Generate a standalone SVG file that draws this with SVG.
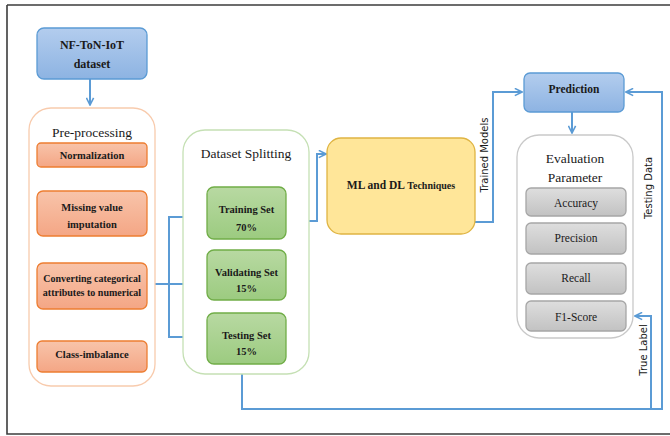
<svg xmlns="http://www.w3.org/2000/svg" width="670" height="436" viewBox="0 0 670 436">
<defs>
<linearGradient id="gBlue" x1="0" y1="0" x2="0" y2="1"><stop offset="0" stop-color="#b3cdee"/><stop offset="1" stop-color="#8db3e2"/></linearGradient>
<linearGradient id="gOrange" x1="0" y1="0" x2="0" y2="1"><stop offset="0" stop-color="#f8c4aa"/><stop offset="1" stop-color="#f4a685"/></linearGradient>
<linearGradient id="gGreen" x1="0" y1="0" x2="0" y2="1"><stop offset="0" stop-color="#b8d9a2"/><stop offset="1" stop-color="#9ccb80"/></linearGradient>
<linearGradient id="gGray" x1="0" y1="0" x2="0" y2="1"><stop offset="0" stop-color="#dedede"/><stop offset="1" stop-color="#c2c2c2"/></linearGradient>
<marker id="arr" viewBox="0 0 10 10" refX="9" refY="5" markerWidth="9" markerHeight="9" markerUnits="userSpaceOnUse" orient="auto">
<path d="M1,1 L9,5 L1,9" fill="none" stroke="#5b9bd5" stroke-width="1.8"/>
</marker>
</defs>
<style>
.frame{fill:none;stroke:#3c3c3c;stroke-width:1.6}
.blue{fill:url(#gBlue);stroke:#5b9bd5;stroke-width:1.3}
.orange{fill:url(#gOrange);stroke:#ed7d31;stroke-width:1.3}
.green{fill:url(#gGreen);stroke:#70ad47;stroke-width:1.3}
.gray{fill:url(#gGray);stroke:#a6a6a6;stroke-width:1.3}
.yellow{fill:#ffe699;stroke:#dfb443;stroke-width:1.3}
.outerO{fill:#fff;stroke:#f8cbad;stroke-width:1.3}
.outerG{fill:#fff;stroke:#c5e0b4;stroke-width:1.3}
.outerK{fill:#fff;stroke:#c9c9c9;stroke-width:1.3}
.c{fill:none;stroke:#5b9bd5;stroke-width:2;marker-end:url(#arr)}
text{fill:#1a1a1a;text-anchor:middle}
.b{font-weight:bold;font-size:10.5px}
.h{font-size:13.5px}
.m{font-size:11.5px}
.s{font-size:10px}
</style>
<rect width="670" height="436" fill="#fff"/>
<path class="frame" d="M7,5 H670 M7,5 V434 H670"/>

<g id="connectors">
<path class="c" d="M90,79 V105"/>
<path class="c" d="M90,167 V189"/>
<path class="c" d="M90,238 V260"/>
<path class="c" d="M90,313 V339"/>
<path class="c" d="M155,284 H205"/>
<path class="c" d="M169,284 V217 H205"/>
<path class="c" d="M169,284 V337 H205"/>
<path class="c" d="M286,221 H317 V154 H326"/>
<path class="c" d="M475,222 H493 V92 H522"/>
<path class="c" d="M572,112 V133"/>
<path class="c" d="M242,374 V409 H662 V92 H626"/>
<path class="c" d="M651,409 V316 H635"/>
<g font-family="DejaVu Sans, Liberation Sans, sans-serif">
<text class="s" transform="translate(488,155) rotate(-90)">Trained Models</text>
<text class="s" transform="translate(652,188) rotate(-90)">Testing Data</text>
<text class="s" transform="translate(647,350) rotate(-90)">True Label</text>
</g>
</g>

<g font-family="Liberation Serif, serif">
<g id="dataset">
<rect class="blue" x="37" y="28" width="110" height="51" rx="7"/>
<text class="b" x="92" y="49" font-size="12" style="font-size:12px">NF-ToN-IoT</text>
<text class="b" x="92" y="68" style="font-size:12px">dataset</text>
</g>

<g id="preprocessing">
<rect class="outerO" x="29" y="108" width="126" height="278" rx="22"/>
<text class="h" x="92" y="137">Pre-processing</text>
</g>
<g id="normalization">
<rect class="orange" x="37" y="143" width="110" height="24" rx="4"/>
<text class="b" x="92" y="158.5">Normalization</text>
</g>
<g id="missing">
<rect class="orange" x="37" y="191" width="110" height="45" rx="6"/>
<text class="b" x="92" y="210.5">Missing value</text>
<text class="b" x="92" y="227.5">imputation</text>
</g>
<g id="converting">
<rect class="orange" x="37" y="263" width="110" height="46" rx="6"/>
<text class="b" x="92" y="281.5" style="font-size:10px">Converting categorical</text>
<text class="b" x="92" y="295.5" style="font-size:10px">attributes to numerical</text>
</g>
<g id="classimbalance">
<rect class="orange" x="37" y="341" width="110" height="31" rx="5"/>
<text class="b" x="92" y="357.5">Class-imbalance</text>
</g>

<g id="splitting">
<rect class="outerG" x="183" y="130" width="126" height="244" rx="22"/>
<text class="h" x="246" y="158">Dataset Splitting</text>
</g>
<g id="training">
<rect class="green" x="207" y="187" width="79" height="52" rx="7"/>
<text class="b" x="246.5" y="212.5">Training Set</text>
<text class="b" x="246.5" y="230.5">70%</text>
</g>
<g id="validating">
<rect class="green" x="207" y="250" width="79" height="50" rx="7"/>
<text class="b" x="246.5" y="275.5">Validating Set</text>
<text class="b" x="246.5" y="291.5">15%</text>
</g>
<g id="testing">
<rect class="green" x="207" y="313" width="79" height="51" rx="7"/>
<text class="b" x="246.5" y="338.5">Testing Set</text>
<text class="b" x="246.5" y="354.5">15%</text>
</g>

<g id="mldl">
<rect class="yellow" x="327" y="138" width="148" height="96" rx="14"/>
<text x="401" y="189"><tspan font-weight="bold" font-size="11.5">ML and DL </tspan><tspan font-weight="bold" font-size="10">Techniques</tspan></text>
</g>

<g id="prediction">
<rect class="blue" x="524" y="73" width="100" height="39" rx="6"/>
<text class="b" x="574" y="92.5" style="font-size:11.5px">Prediction</text>
</g>

<g id="evaluation">
<rect class="outerK" x="517" y="135" width="116" height="203" rx="22"/>
<text class="h" x="575" y="162.5">Evaluation</text>
<text class="h" x="575" y="181.5">Parameter</text>
</g>
<g id="accuracy">
<rect class="gray" x="526" y="188" width="100" height="28" rx="5"/>
<text class="m" x="576" y="206.5">Accuracy</text>
</g>
<g id="precision">
<rect class="gray" x="526" y="223" width="100" height="31" rx="5"/>
<text class="m" x="576" y="242">Precision</text>
</g>
<g id="recall">
<rect class="gray" x="526" y="263" width="100" height="31" rx="5"/>
<text class="m" x="576" y="282">Recall</text>
</g>
<g id="f1score">
<rect class="gray" x="526" y="301" width="100" height="30" rx="5"/>
<text class="m" x="576" y="320.5">F1-Score</text>
</g>
</g>
</svg>
